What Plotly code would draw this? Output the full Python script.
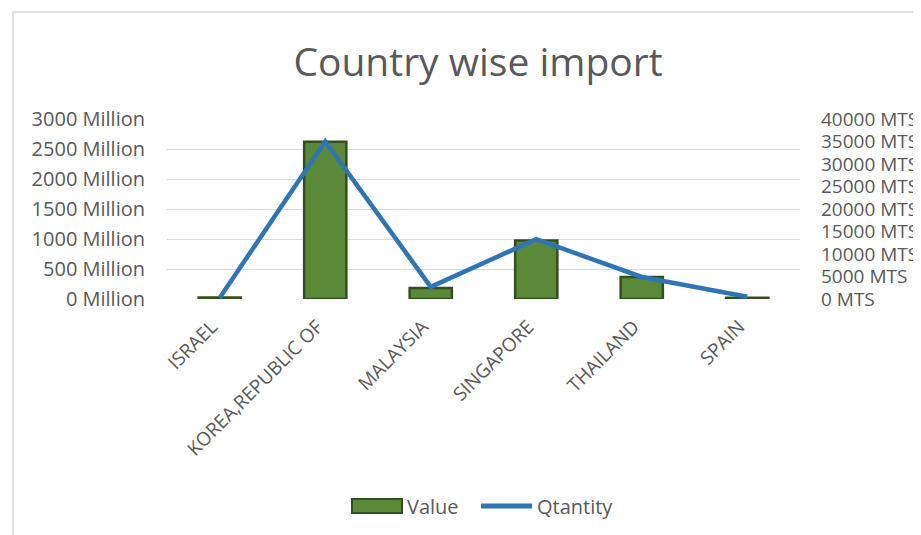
import plotly.graph_objects as go

countries = ["ISRAEL", "KOREA,REPUBLIC OF", "MALAYSIA", "SINGAPORE", "THAILAND", "SPAIN"]
value_million = [25, 2620, 185, 975, 365, 22]
quantity_mts = [300, 35000, 2700, 13300, 4900, 500]

left_ticks = [0, 500, 1000, 1500, 2000, 2500, 3000]
right_ticks = [0, 5000, 10000, 15000, 20000, 25000, 30000, 35000, 40000]

FONT = "Open Sans"
GREY = "#595959"
BAR_GREEN = "#5a8a38"
BAR_EDGE = "#31501c"
LINE_BLUE = "#2e75b6"

# page body has an 8px margin, so figure coords = screen coords - 8
OFF = 8
L, R, T, B = 167 - OFF, 800 - OFF, 119 - OFF, 299 - OFF
W, H = 921, 535
pw, ph = R - L, B - T


def px_x(px):
    return (px - L) / pw


def px_y(py):
    return (B - py) / ph


fig = go.Figure()
fig.add_trace(go.Bar(
    x=countries, y=value_million, name="Value",
    marker=dict(color=BAR_GREEN, line=dict(color=BAR_EDGE, width=2.5)),
    yaxis="y", showlegend=False,
))
fig.add_trace(go.Scatter(
    x=countries, y=quantity_mts, name="Qtantity", mode="lines",
    line=dict(color=LINE_BLUE, width=4.5),
    yaxis="y2", showlegend=False,
))

# legend (drawn manually to mimic wide swatches)
leg_y = 498
shapes = [
    dict(type="rect", xref="paper", yref="paper",
         x0=px_x(5), x1=px_x(940), y0=px_y(560), y1=px_y(4),
         line=dict(color="#d9d9d9", width=1.5), fillcolor="rgba(0,0,0,0)",
         layer="below"),
    dict(type="rect", xref="paper", yref="paper",
         x0=px_x(344), x1=px_x(394), y0=px_y(leg_y + 7), y1=px_y(leg_y - 7),
         line=dict(color=BAR_EDGE, width=2), fillcolor=BAR_GREEN),
    dict(type="line", xref="paper", yref="paper",
         x0=px_x(473), x1=px_x(524), y0=px_y(leg_y), y1=px_y(leg_y),
         line=dict(color=LINE_BLUE, width=5)),
]
annotations = [
    dict(text="Value", xref="paper", yref="paper", x=px_x(397), y=px_y(leg_y),
         xanchor="left", yanchor="middle", showarrow=False,
         font=dict(family=FONT, size=20, color=GREY)),
    dict(text="Qtantity", xref="paper", yref="paper", x=px_x(527), y=px_y(leg_y),
         xanchor="left", yanchor="middle", showarrow=False,
         font=dict(family=FONT, size=20, color=GREY)),
]

fig.update_layout(
    width=W, height=H,
    margin=dict(l=L, r=W - R, t=T, b=H - B, pad=0),
    paper_bgcolor="white", plot_bgcolor="white",
    font=dict(family=FONT, size=20, color=GREY),
    title=dict(text="Country wise import", x=(478 - OFF) / W, xanchor="center",
               y=1 - (62 - OFF) / H, yanchor="middle",
               font=dict(family=FONT, size=39, color=GREY)),
    bargap=0.6,
    showlegend=False,
    xaxis=dict(tickangle=-45, showgrid=False, showline=False, ticks="",
               tickfont=dict(family=FONT, size=19, color=GREY),
               ticklabelstandoff=12, ticklabelshift=-8),
    yaxis=dict(range=[0, 3000], tickvals=left_ticks,
               ticktext=[f"{v} Million" for v in left_ticks],
               showgrid=True, gridcolor="#d9d9d9", gridwidth=1.3,
               zeroline=False, showline=False, ticks="",
               ticklabelstandoff=21),
    yaxis2=dict(range=[0, 40000], tickvals=right_ticks,
                ticktext=[f"{v} MTS" for v in right_ticks],
                overlaying="y", side="right", showgrid=False,
                zeroline=False, showline=False, ticks="",
                ticklabelstandoff=20,
                tickfont=dict(family=FONT, size=19, color=GREY)),
    shapes=shapes,
    annotations=annotations,
)

fig.write_html("out.html")
